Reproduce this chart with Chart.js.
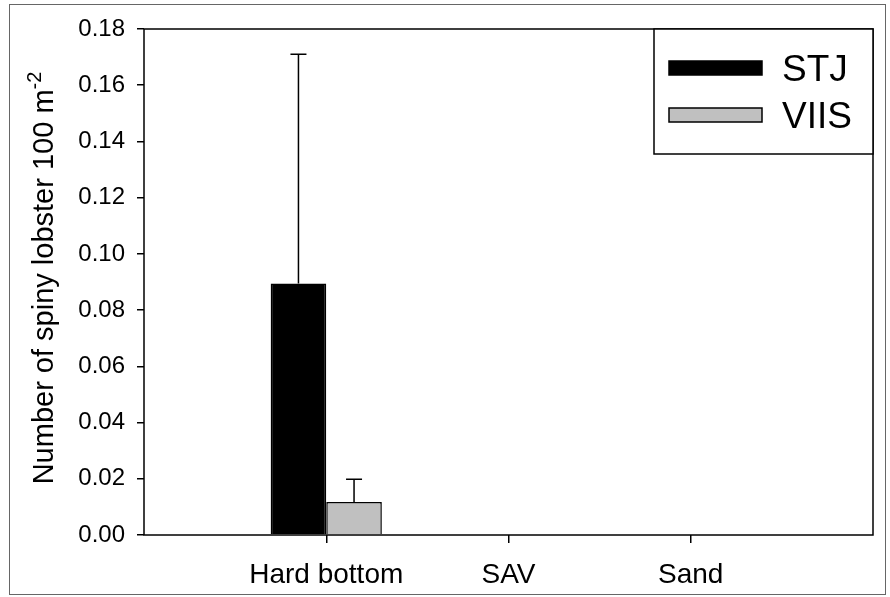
<!DOCTYPE html>
<html>
<head>
<meta charset="utf-8">
<script src="https://cdn.jsdelivr.net/npm/chart.js@4.4.1/dist/chart.umd.min.js"></script>
<style>
    html, body { margin: 0; padding: 0; background: #fff; }
    #wrap { width: 890px; height: 597px; position: relative; }
</style>
</head>
<body>
<div id="wrap"><canvas id="lobsterChart" width="890" height="597"></canvas></div>
<script>
// Dados do gráfico
const habitats = ['Hard bottom', 'SAV', 'Sand'];
const stjMeans = [0.0895, 0, 0];
const stjSE = [0.0815, 0, 0];
const viisMeans = [0.0117, 0, 0];
const viisSE = [0.0081, 0, 0];
const yTicks = [0, 0.02, 0.04, 0.06, 0.08, 0.10, 0.12, 0.14, 0.16, 0.18];

// Eixo x com posições vazias nas pontas (categorias em 1, 2, 3)
const xLabels = ['', ...habitats, ''];
const pad = arr => [null, ...arr, null];

const FONT = 'Liberation Sans, Arial, sans-serif';

// Barras de erro (só para cima, com "chapéu")
const errorBarsPlugin = {
    id: 'errorBars',
    afterDatasetsDraw(chart) {
        const ctx = chart.ctx;
        const yScale = chart.scales.y;
        chart.data.datasets.forEach((ds, di) => {
            const meta = chart.getDatasetMeta(di);
            meta.data.forEach((bar, i) => {
                const v = ds.data[i];
                const se = ds.errors[i];
                if (v == null || !se) return;
                const yTop = yScale.getPixelForValue(v + se);
                ctx.save();
                ctx.strokeStyle = '#000';
                ctx.lineWidth = 1.5;
                ctx.beginPath();
                ctx.moveTo(bar.x, bar.y);
                ctx.lineTo(bar.x, yTop);
                ctx.moveTo(bar.x - 8, yTop);
                ctx.lineTo(bar.x + 8, yTop);
                ctx.stroke();
                ctx.restore();
            });
        });
    }
};

// Moldura da área do gráfico, legenda em caixa, título do eixo y e borda externa
const framePlugin = {
    id: 'frame',
    afterDraw(chart) {
        const ctx = chart.ctx;
        const a = chart.chartArea;
        ctx.save();

        // borda externa da figura
        ctx.strokeStyle = '#666';
        ctx.lineWidth = 1;
        ctx.strokeRect(9.5, 4.5, 876, 590);

        // caixa do gráfico
        ctx.strokeStyle = '#000';
        ctx.lineWidth = 1.5;
        ctx.strokeRect(a.left, a.top, a.right - a.left, a.bottom - a.top);

        // legenda
        const boxW = 219, boxH = 125;
        const bx = a.right - boxW, by = a.top;
        ctx.fillStyle = '#fff';
        ctx.fillRect(bx, by, boxW, boxH);
        ctx.strokeRect(bx, by, boxW, boxH);
        ctx.font = '37px ' + FONT;
        ctx.textBaseline = 'alphabetic';
        chart.data.datasets.forEach((ds, i) => {
            const sy = by + 32 + i * 47;
            ctx.fillStyle = ds.backgroundColor;
            ctx.fillRect(bx + 15, sy, 93, 14);
            ctx.lineWidth = 1.5;
            ctx.strokeStyle = '#000';
            ctx.strokeRect(bx + 15, sy, 93, 14);
            ctx.fillStyle = '#000';
            ctx.fillText(ds.label, bx + 128, sy + 20);
        });

        // título do eixo y com sobrescrito
        const main = 'Number of spiny lobster 100 m';
        const sup = '-2';
        ctx.font = '29px ' + FONT;
        const wMain = ctx.measureText(main).width;
        ctx.font = '20px ' + FONT;
        const wSup = ctx.measureText(sup).width;
        const total = wMain + wSup;
        const cy = (a.top + a.bottom) / 2 - 4;
        ctx.translate(53, cy);
        ctx.rotate(-Math.PI / 2);
        ctx.fillStyle = '#000';
        ctx.font = '29px ' + FONT;
        ctx.fillText(main, -total / 2, 0);
        ctx.font = '20px ' + FONT;
        ctx.fillText(sup, -total / 2 + wMain, -12);
        ctx.restore();
    }
};

const ctx = document.getElementById('lobsterChart').getContext('2d');
const lobsterChart = new Chart(ctx, {
    type: 'bar',
    data: {
        labels: xLabels,
        datasets: [
            {
                label: 'STJ',
                data: pad(stjMeans),
                errors: pad(stjSE),
                backgroundColor: '#000000',
                borderColor: '#000000',
                borderWidth: 1.5,
                categoryPercentage: 0.61,
                barPercentage: 1.0
            },
            {
                label: 'VIIS',
                data: pad(viisMeans),
                errors: pad(viisSE),
                backgroundColor: '#c0c0c0',
                borderColor: '#000000',
                borderWidth: 1.5,
                categoryPercentage: 0.61,
                barPercentage: 1.0
            }
        ]
    },
    options: {
        responsive: false,
        animation: false,
        layout: { padding: { left: 0, top: 29, right: 17, bottom: 0 } },
        plugins: {
            legend: { display: false },
            tooltip: { enabled: false },
            title: { display: false }
        },
        scales: {
            x: {
                offset: false,
                grid: {
                    offset: false,
                    drawOnChartArea: false,
                    drawTicks: true,
                    tickLength: 8,
                    lineWidth: 1.5,
                    tickColor: c => (c.index >= 1 && c.index <= habitats.length) ? '#000' : 'rgba(0,0,0,0)'
                },
                border: { display: false },
                ticks: {
                    color: '#000',
                    font: { family: FONT, size: 28 },
                    padding: 15,
                    maxRotation: 0,
                    autoSkip: false
                },
                afterFit: scale => { scale.height = 62; }
            },
            y: {
                min: 0,
                max: 0.18,
                afterBuildTicks: scale => { scale.ticks = yTicks.map(v => ({ value: v })); },
                grid: {
                    drawOnChartArea: false,
                    drawTicks: true,
                    tickLength: 7,
                    lineWidth: 1.5,
                    tickColor: '#000'
                },
                border: { display: false },
                ticks: {
                    color: '#000',
                    font: { family: FONT, size: 24 },
                    padding: 12,
                    callback: v => Number(v).toFixed(2)
                },
                afterFit: scale => { scale.width = 144; }
            }
        }
    },
    plugins: [errorBarsPlugin, framePlugin]
});
</script>
</body>
</html>
